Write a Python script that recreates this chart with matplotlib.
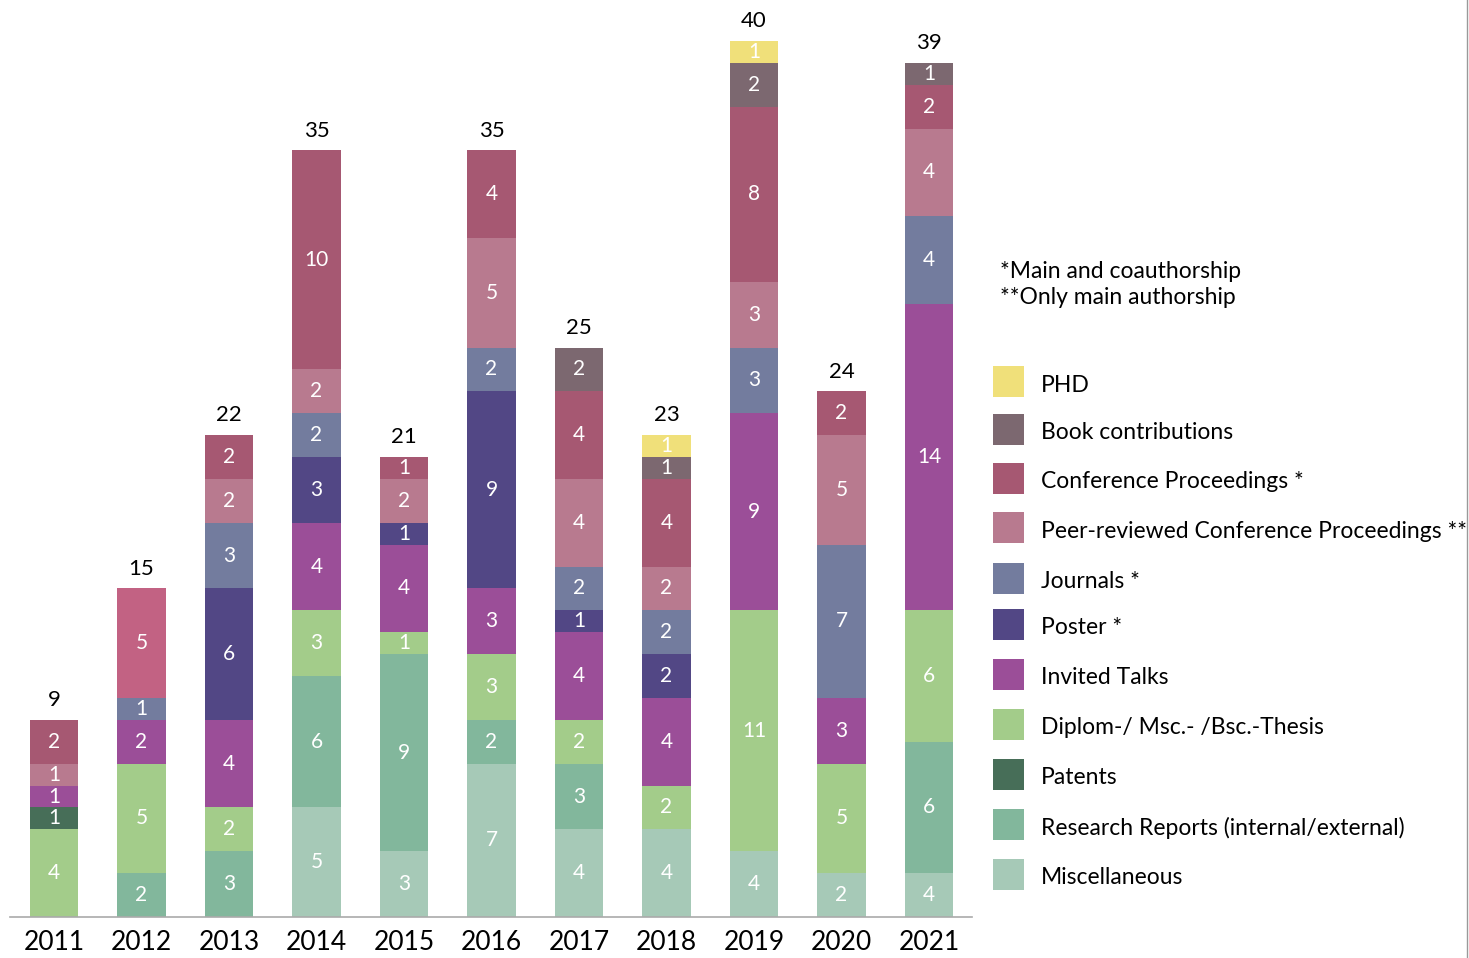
import matplotlib
matplotlib.use("Agg")
import matplotlib.pyplot as plt
from matplotlib.patches import Rectangle
import numpy as np

plt.rcParams['font.family'] = ['Lato', 'DejaVu Sans']

years = ["2011", "2012", "2013", "2014", "2015", "2016", "2017", "2018", "2019", "2020", "2021"]

# segment heights, bottom to top of each bar
misc       = [0, 0, 0, 5, 3, 7, 4, 4, 3, 2, 2]
research   = [0, 2, 3, 6, 9, 2, 3, 0, 0, 0, 6]
thesis     = [4, 5, 2, 3, 1, 3, 2, 2, 11, 5, 6]
patents    = [1, 0, 0, 0, 0, 0, 0, 0, 0, 0, 0]
talks      = [1, 2, 4, 4, 4, 3, 4, 4, 9, 3, 14]
poster     = [0, 0, 6, 3, 1, 9, 1, 2, 0, 0, 0]
journals   = [0, 1, 3, 2, 0, 2, 2, 2, 3, 7, 4]
peer_conf  = [1, 0, 2, 2, 2, 5, 4, 2, 3, 5, 4]
conf       = [2, 5, 2, 10, 1, 4, 4, 4, 8, 2, 2]
books      = [0, 0, 0, 0, 0, 0, 2, 1, 2, 0, 1]
phd        = [0, 0, 0, 0, 0, 0, 0, 1, 1, 0, 0]

# numbers printed in the misc segments (differ from drawn height in two bars)
misc_shown = [0, 0, 0, 5, 3, 7, 4, 4, 4, 2, 4]
# totals printed above the bars
totals = [9, 15, 22, 35, 21, 35, 25, 23, 40, 24, 39]

# stacking order (bottom to top)
names = ["Miscellaneous", "Research Reports (internal/external)",
         "Diplom-/ Msc.- /Bsc.-Thesis", "Patents", "Invited Talks", "Poster *", "Journals *",
         "Peer-reviewed Conference Proceedings **", "Conference Proceedings *",
         "Book contributions", "PHD"]
series = [misc, research, thesis, patents, talks, poster, journals, peer_conf, conf, books, phd]
colors = ["#a6c9b7", "#82b79c", "#a3cc8a", "#476e58", "#9b4e98", "#524785", "#737c9e",
          "#b87a8f", "#a65872", "#7c6870", "#f0e07a"]
conf_2012_color = "#c26283"

# legend order (top to bottom)
legend_order = ["PHD", "Book contributions", "Conference Proceedings *",
                "Peer-reviewed Conference Proceedings **", "Journals *", "Poster *",
                "Invited Talks", "Diplom-/ Msc.- /Bsc.-Thesis", "Patents",
                "Research Reports (internal/external)", "Miscellaneous"]

fig = plt.figure(figsize=(14.69, 9.58), dpi=100)
ax = fig.add_axes([10/1469, 41/958, 962/1469, 917/958])

x = np.arange(len(years))
bottom = np.zeros(len(years))
for k, (vals, col) in enumerate(zip(series, colors)):
    vals = np.array(vals, dtype=float)
    cols = [col] * len(years)
    if names[k].startswith("Conference"):
        cols[1] = conf_2012_color
    ax.bar(x, vals, 0.55, bottom=bottom, color=cols, linewidth=0)
    shown = misc_shown if k == 0 else vals
    for i in range(len(years)):
        if vals[i] > 0:
            ax.text(x[i], bottom[i] + vals[i] / 2, str(int(shown[i])), ha='center', va='center',
                    color='white', fontsize=15)
    bottom += vals

for i in range(len(years)):
    ax.text(x[i], bottom[i] + 0.45, str(totals[i]), ha='center', va='bottom', fontsize=16)

ax.set_xlim(-0.503, 10.491)
ax.set_ylim(0, 41.87)
ax.set_yticks([])
ax.set_xticks(x)
ax.set_xticklabels(years, fontsize=19)
ax.tick_params(axis='x', length=0, pad=9)
for s in ['top', 'left', 'right']:
    ax.spines[s].set_visible(False)
ax.spines['bottom'].set_color('#aaaaaa')
ax.spines['bottom'].set_linewidth(1.2)

# footnote
fig.text(1000/1469, 1 - 271/958, "*Main and coauthorship", fontsize=16.5, va='center')
fig.text(1000/1469, 1 - 298/958, "**Only main authorship", fontsize=16.5, va='center')

# legend, top entry first
ys = [382, 430, 479, 528, 579, 625, 675, 725, 775, 825, 875]
for name, yc in zip(legend_order, ys):
    col = colors[names.index(name)]
    fig.add_artist(Rectangle((993/1469, 1 - (yc + 15)/958), 31/1469, 31/958,
                             transform=fig.transFigure, color=col, lw=0))
    fig.text(1041/1469, 1 - (yc + 3)/958, name, fontsize=16.5, va='center')

# thin frame line on the right
fig.add_artist(plt.Line2D([1467/1469, 1467/1469], [0, 1], transform=fig.transFigure,
                          color='#999999', lw=1))

fig.savefig("out.png", dpi=100)
